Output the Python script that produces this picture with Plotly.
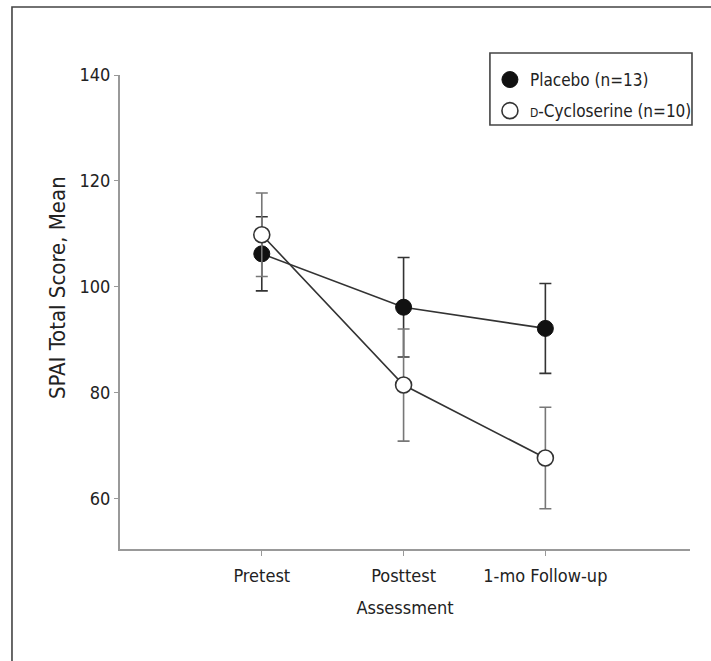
import plotly.graph_objects as go

categories = ["Pretest", "Posttest", "1-mo Follow-up"]
x_pos = [1, 2, 3]

placebo_mean = [106.2, 96.1, 92.1]
placebo_err = [7.0, 9.4, 8.5]

dcs_mean = [109.8, 81.4, 67.6]
dcs_err = [7.9, 10.6, 9.6]

y_ticks = [60, 80, 100, 120, 140]

FONT = "DejaVu Sans Condensed, Liberation Sans Narrow, Arial Narrow, sans-serif"

fig = go.Figure()

fig.add_trace(go.Scatter(
    x=x_pos, y=placebo_mean, mode="lines+markers", showlegend=False,
    line=dict(color="#333333", width=1.6),
    marker=dict(size=16, color="#111111", line=dict(color="#111111", width=1)),
    error_y=dict(type="data", array=placebo_err, visible=True,
                 color="#333333", thickness=1.6, width=6),
))
fig.add_trace(go.Scatter(
    x=x_pos, y=dcs_mean, mode="lines+markers", showlegend=False,
    line=dict(color="#333333", width=1.6),
    marker=dict(size=16, color="white", line=dict(color="#333333", width=1.6)),
    error_y=dict(type="data", array=dcs_err, visible=True,
                 color="#777777", thickness=1.6, width=6),
))

# legend-only traces (markers without lines)
fig.add_trace(go.Scatter(
    x=[None], y=[None], mode="markers", name="Placebo (n=13)", legendgroup="a",
    marker=dict(size=16, color="#111111", line=dict(color="#111111", width=1)),
))
fig.add_trace(go.Scatter(
    x=[None], y=[None], mode="markers", legendgroup="b",
    name="<span style='font-size:12px'>D</span>-Cycloserine (n=10)",
    marker=dict(size=16, color="white", line=dict(color="#333333", width=1.6)),
))

# outer frame of the figure panel
fig.add_shape(type="rect", xref="paper", yref="paper",
              x0=-0.1895, x1=2.0, y0=-1.0, y1=1.1435,
              line=dict(color="#444444", width=1.6), fillcolor="rgba(0,0,0,0)",
              layer="below")
# legend box
fig.add_shape(type="rect", xref="paper", yref="paper",
              x0=0.649, x1=1.0035, y0=0.8945, y1=1.0464,
              line=dict(color="#444444", width=1.6), fillcolor="rgba(0,0,0,0)",
              layer="below")

# y-axis title
fig.add_annotation(text="SPAI Total Score, Mean", xref="paper", yref="paper",
                   x=-0.1105, y=0.5506, textangle=-90, showarrow=False,
                   xanchor="center", yanchor="middle",
                   font=dict(family=FONT, size=22, color="#222222"))

fig.update_layout(
    width=711, height=661,
    margin=dict(l=120, r=21, t=75, b=112),
    paper_bgcolor="white", plot_bgcolor="white",
    font=dict(family=FONT, size=18, color="#222222"),
    legend=dict(
        x=0.649, y=1.0274, xanchor="left", yanchor="top",
        borderwidth=0, bgcolor="rgba(0,0,0,0)",
        font=dict(family=FONT, size=17, color="#222222"),
        itemwidth=30, tracegroupgap=6,
    ),
    xaxis=dict(
        range=[0, 4.02], tickmode="array", tickvals=x_pos, ticktext=categories,
        showline=True, linecolor="#999999", linewidth=2,
        ticks="outside", ticklen=5, tickcolor="#999999", tickwidth=1,
        ticklabelstandoff=4,
        showgrid=False, zeroline=False,
        title=dict(text="Assessment", standoff=17, font=dict(family=FONT, size=18)),
    ),
    yaxis=dict(
        range=[50.4, 140], tickmode="array", tickvals=y_ticks,
        showline=True, linecolor="#999999", linewidth=2,
        ticks="outside", ticklen=4, tickcolor="#999999", tickwidth=1,
        showgrid=False, zeroline=False,
    ),
)

fig.write_html("out.html", config={"displayModeBar": False},
               post_script="document.body.style.margin='0';")
